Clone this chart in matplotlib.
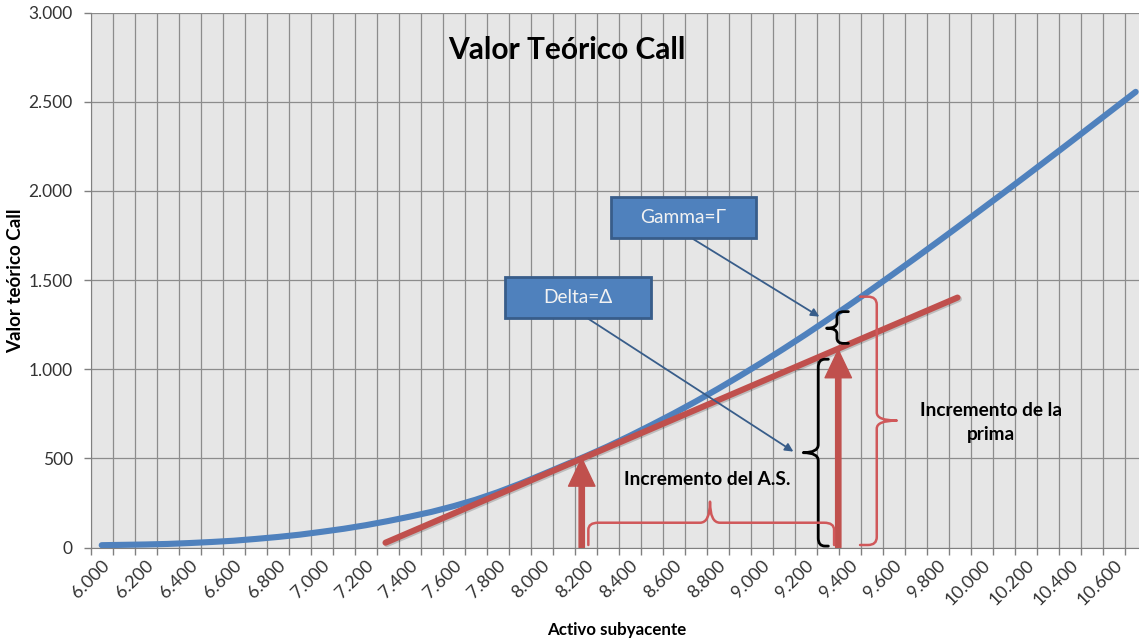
import numpy as np
import matplotlib
matplotlib.use("Agg")
import matplotlib.pyplot as plt
from matplotlib.path import Path
from matplotlib.patches import PathPatch, Rectangle, FancyArrowPatch
import matplotlib.patheffects as pe

plt.rcParams['font.family'] = ['Lato', 'DejaVu Sans']

############################################
# data
############################################

activo = list(range(6000, 10701, 100))
valor_call = [13, 15, 17, 20, 25, 31, 38, 48, 59, 72,
              88, 105, 125, 148, 173, 200, 232, 268, 310, 357,
              408, 460, 512, 567, 626, 688, 752, 819, 889, 962,
              1037, 1115, 1195, 1278, 1362, 1448, 1536, 1625, 1715, 1806,
              1898, 1990, 2083, 2177, 2271, 2366, 2461, 2556]

delta_x = [7290, 9890]
delta_y = [27, 1402]

x_labels = list(range(6000, 10601, 200))
y_ticks = [0, 500, 1000, 1500, 2000, 2500, 3000]

BLUE = '#4F81BD'
RED = '#C0504D'
DARK_BLUE = '#385D8A'


def fmt(v):
    return f"{v:,}".replace(",", ".")


def brace(ax, end, spine, tip, a0, a1, a_tip, r_side, r_long, vertical=True, **kw):
    # curly brace; for vertical braces 'end/spine/tip' are x values and a0/a1/a_tip are y
    s = 1 if end > spine else -1
    pts = [(end, a1), (spine + s * r_side, a1), (spine, a1), (spine, a1 - r_long),
           (spine, a_tip + r_long), (spine, a_tip), (tip, a_tip),
           (spine, a_tip), (spine, a_tip - r_long),
           (spine, a0 + r_long), (spine, a0), (spine + s * r_side, a0), (end, a0)]
    codes = [Path.MOVETO, Path.LINETO, Path.CURVE3, Path.CURVE3,
             Path.LINETO, Path.CURVE3, Path.CURVE3, Path.CURVE3, Path.CURVE3,
             Path.LINETO, Path.CURVE3, Path.CURVE3, Path.LINETO]
    if not vertical:
        pts = [(b, a) for a, b in pts]
    ax.add_patch(PathPatch(Path(pts, codes), fill=False, capstyle='round',
                           joinstyle='round', zorder=5, **kw))


############################################
# plot
############################################

fig = plt.figure(figsize=(11.39, 6.41), dpi=100)
ax = fig.add_axes([90.7 / 1139, 93.5 / 641, 1056 / 1139, 534.8 / 641])
ax.set_facecolor('#E6E6E6')

ax.plot(activo, valor_call, color=BLUE, lw=4.4, solid_capstyle='round', zorder=4)
ax.plot(delta_x, delta_y, color=RED, lw=4.4, solid_capstyle='round', zorder=4,
        path_effects=[pe.SimpleLineShadow(offset=(1, -1), shadow_color='k', alpha=0.18),
                      pe.Normal()])

ax.set_xlim(5950, 10750)
ax.set_ylim(0, 3000)

# category boundaries -> ticks + vertical grid
ax.set_xticks(np.arange(5950, 10751, 100))
ax.set_xticklabels([])
ax.set_xticks(x_labels, minor=True)
ax.set_xticklabels([fmt(v) for v in x_labels], minor=True, rotation=45,
                   ha='right', va='top', rotation_mode='anchor',
                   fontsize=13, color='#333333')
ax.tick_params(axis='x', which='major', length=5, color='#808080', width=1)
ax.tick_params(axis='x', which='minor', length=0, pad=7)

ax.set_yticks(y_ticks)
ax.set_yticklabels([fmt(v) for v in y_ticks], fontsize=12.5, color='#333333')
ax.tick_params(axis='y', length=5, color='#808080', width=1, pad=8)

ax.grid(True, which='major', color='#8C8C8C', lw=0.9)
ax.set_axisbelow(True)
for side in ['top', 'right']:
    ax.spines[side].set_visible(False)
for side in ['left', 'bottom']:
    ax.spines[side].set_color('#808080')

# title and axis labels
fig.text(567 / 1139, 1 - 50 / 641, 'Valor Teórico Call', fontsize=21.5,
         fontweight='bold', ha='center', va='center')
fig.text(16 / 1139, 1 - 281 / 641, 'Valor teórico Call', fontsize=13.5,
         fontweight='bold', rotation=90, ha='center', va='center')
fig.text(617 / 1139, 1 - 630 / 641, 'Activo subyacente', fontsize=12.2,
         fontweight='bold', ha='center', va='center')

# callout boxes
for (x0, x1, y0, y1, txt) in [(8315, 8974, 1735, 1967, 'Gamma=\u0393'),
                              (7833, 8497, 1290, 1520, 'Delta=\u0394')]:
    ax.add_patch(Rectangle((x0, y0), x1 - x0, y1 - y0, facecolor=BLUE,
                           edgecolor=DARK_BLUE, lw=2, zorder=6))
    ax.text((x0 + x1) / 2, (y0 + y1) / 2, txt, color='#F2F2F2', fontsize=13.8,
            ha='center', va='center', zorder=7)

for start, end in [((8689, 1730), (9262, 1295)), ((8212, 1283), (9144, 538))]:
    ax.annotate('', xy=end, xytext=start, zorder=6,
                arrowprops=dict(arrowstyle='-|>', color=DARK_BLUE, lw=1.3,
                                mutation_scale=12, shrinkA=0, shrinkB=0))

# red arrows up to the delta line
for xa, ya in [(8182, 500), (9348, 1108)]:
    ax.add_patch(FancyArrowPatch((xa, 0), (xa, ya), zorder=5, color=RED,
                                 arrowstyle='simple,head_length=2.0,head_width=1.9,tail_width=0.38',
                                 mutation_scale=10, shrinkA=0, shrinkB=0))

# braces
brace(ax, 9394, 9342, 9295, 1145, 1323, 1230, 30, 30, color='black', lw=2.0)
brace(ax, 9303, 9257, 9189, 8, 1056, 532, 30, 45, color='black', lw=2.0)
brace(ax, 9447, 9523, 9614, 14, 1407, 712, 40, 45, color='#D0585A', lw=1.8)
brace(ax, 14, 139, 257, 8212, 9329, 8765, 40, 45, vertical=False,
      color='#D0585A', lw=1.8)

ax.text(8754, 383, 'Incremento del A.S.', fontsize=13.8, fontweight='bold',
        ha='center', va='center', zorder=7)
ax.text(10041, 701, 'Incremento de la\nprima', fontsize=13.7, fontweight='bold',
        ha='center', va='center', linespacing=1.45, zorder=7)

fig.savefig('out.png', dpi=100)
